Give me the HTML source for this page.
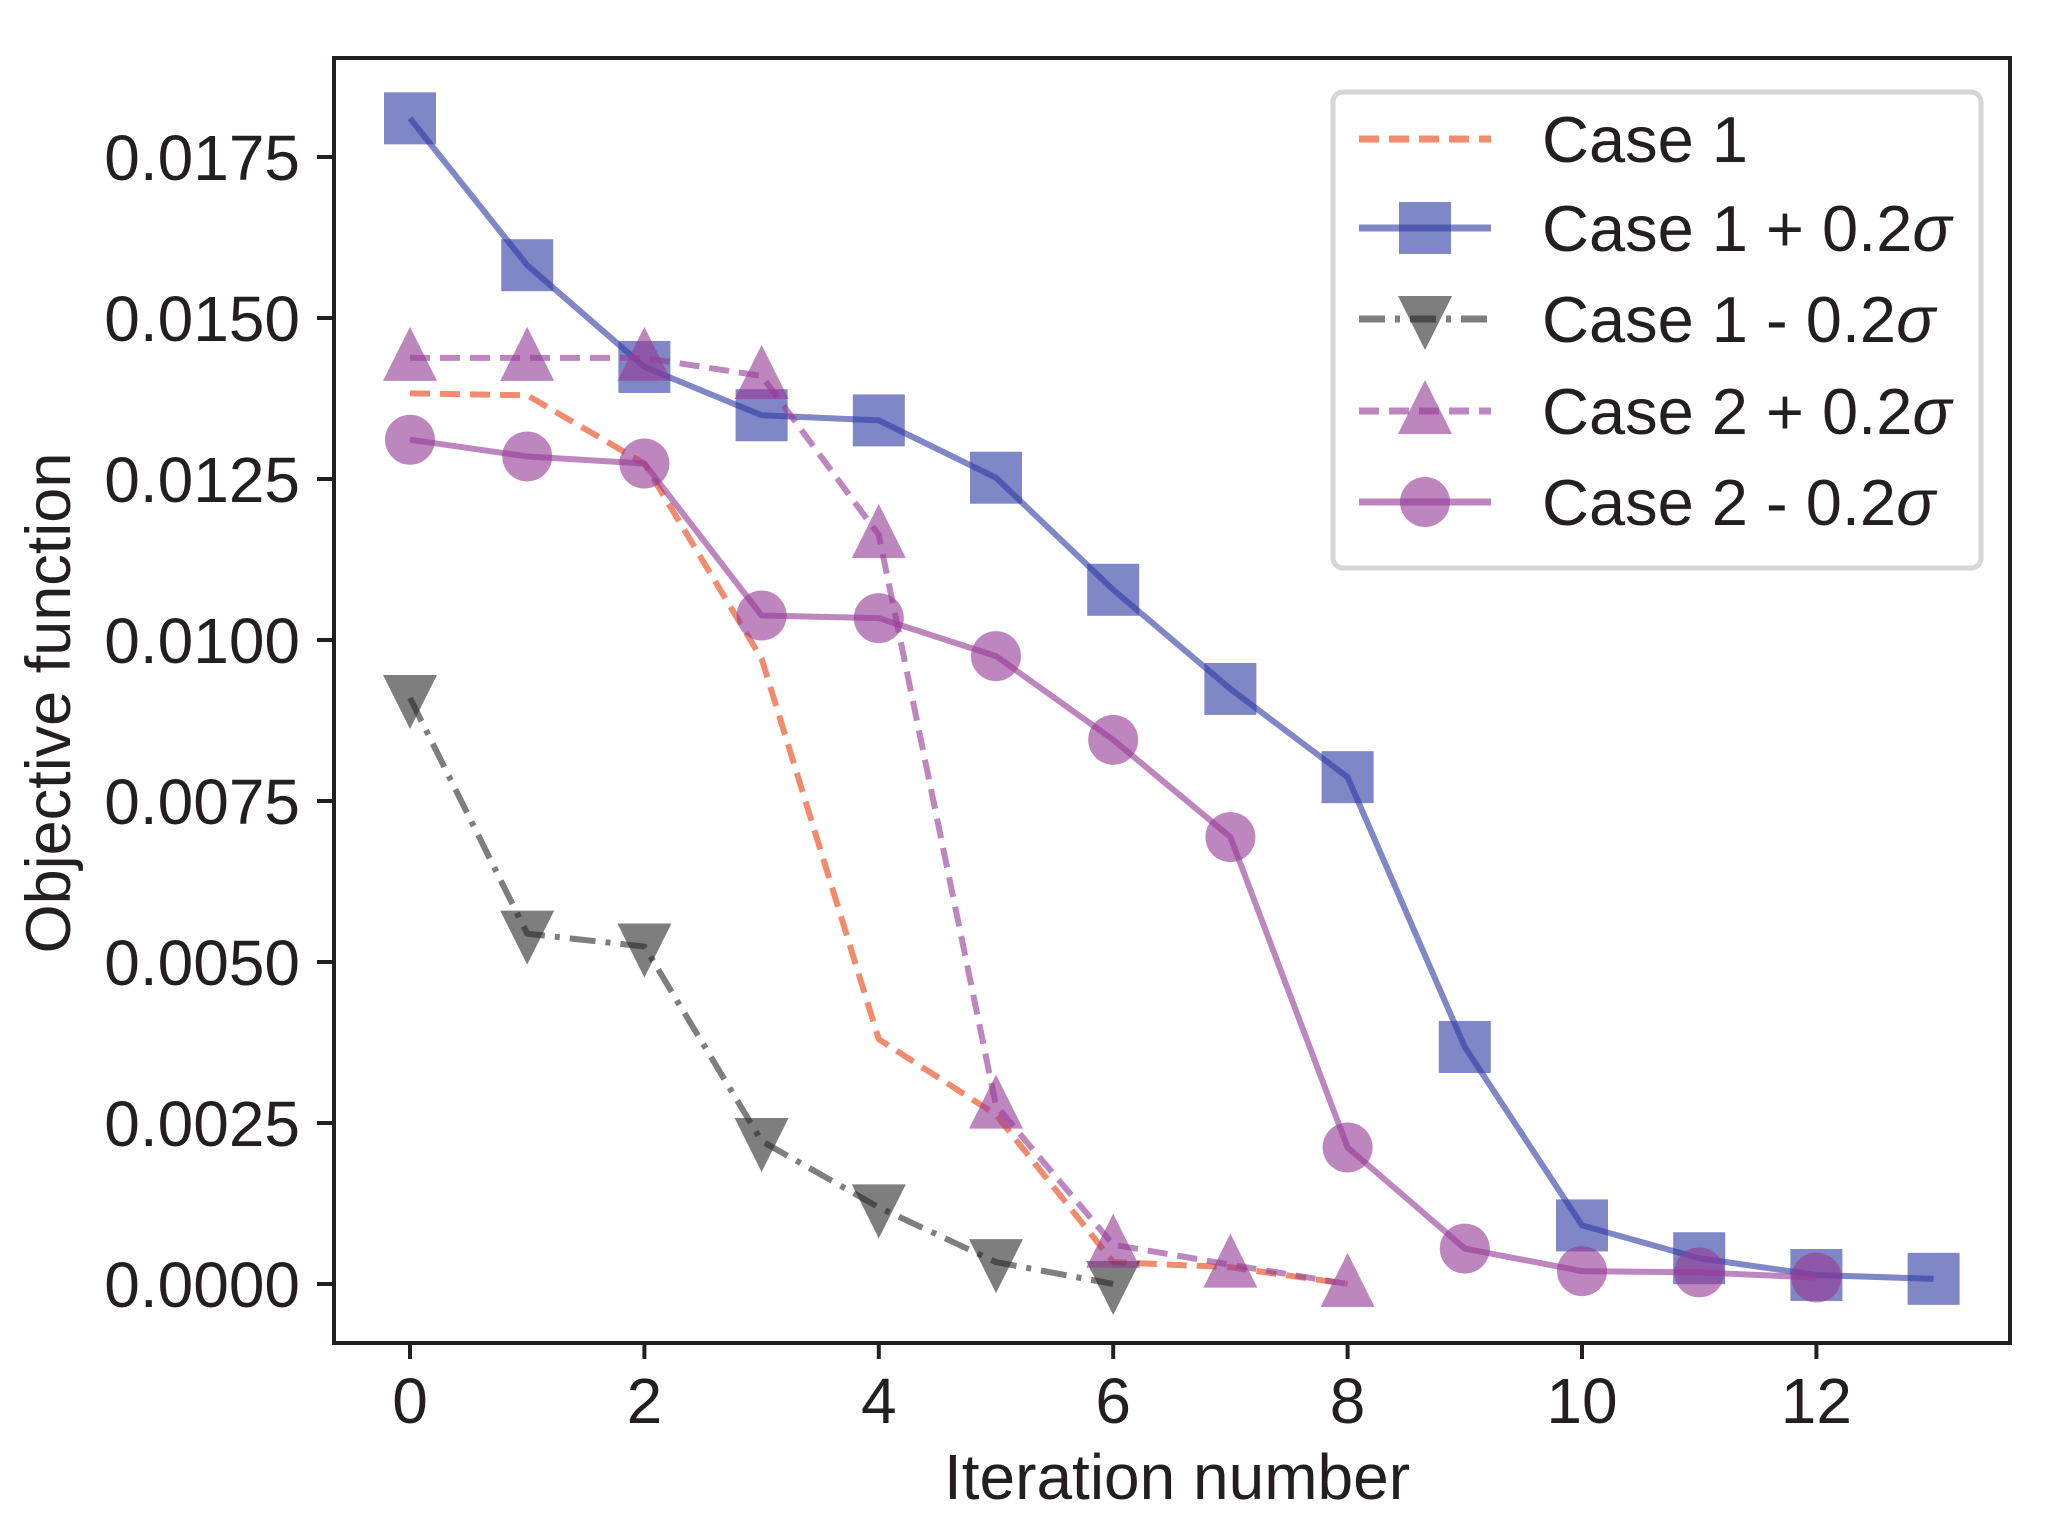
<!DOCTYPE html>
<html><head><meta charset="utf-8"><style>
html,body{margin:0;padding:0;background:#fff;}
svg{display:block;font-family:"Liberation Sans",Arial,sans-serif;}
</style></head><body>
<svg id="chart" width="2046" height="1525" viewBox="0 0 2046 1525" xmlns="http://www.w3.org/2000/svg">
<rect width="2046" height="1525" fill="#fff"/>
<g id="marks"></g>
<g id="axes"></g>
<g id="legend"></g>
</svg>
<script>
const iterations = [0,1,2,3,4,5,6,7,8,9,10,11,12,13];
const case1 = [0.01383,0.0138,0.01274,0.00971,0.0038,0.00263,0.00034,0.00026,0.0];
const case1Plus = [0.0181,0.01582,0.01424,0.01349,0.01341,0.01252,0.01078,0.00924,0.00787,0.00368,0.00091,0.0004,0.00014,0.00008];
const case1Minus = [0.0091,0.00544,0.00524,0.00222,0.00119,0.00034,0.0];
const case2Plus = [0.01438,0.01438,0.01438,0.0141,0.01163,0.00277,0.00061,0.0003,0.0];
const case2Minus = [0.01311,0.01285,0.01274,0.01038,0.01034,0.00975,0.00845,0.00694,0.00212,0.00055,0.0002,0.00018,0.0001];
const xTicks = [0,2,4,6,8,10,12];
const yTicks = [0,0.0025,0.005,0.0075,0.01,0.0125,0.015,0.0175];
const yTickLabels = ["0.0000","0.0025","0.0050","0.0075","0.0100","0.0125","0.0150","0.0175"];
const seriesBase = ["Case 1","Case 1 + 0.2","Case 1 - 0.2","Case 2 + 0.2","Case 2 - 0.2"];
const seriesSigma = [false,true,true,true,true];

const L=334,R=2010,T=58,B=1343;
const x0px=410, xUnit=117.2, y0px=1284, yPer=161/0.0025;
function X(v){return x0px+v*xUnit;}
function Y(v){return y0px-v*yPer;}
const NS="http://www.w3.org/2000/svg";
function mk(tag,attrs,parent){const e=document.createElementNS(NS,tag);for(const k in attrs)e.setAttribute(k,attrs[k]);parent.appendChild(e);return e;}
const marks=document.getElementById('marks'),axes=document.getElementById('axes'),legend=document.getElementById('legend');

const styles=[
 {data:case1,color:'rgba(238,100,60,0.75)',dash:'20,10',marker:null,name:'case-1'},
 {data:case1Plus,color:'rgba(50,62,165,0.62)',dash:null,marker:'square',name:'case-1-plus'},
 {data:case1Minus,color:'rgba(40,40,40,0.6)',dash:'26,10,5,10',marker:'tridown',name:'case-1-minus'},
 {data:case2Plus,color:'rgba(150,60,150,0.62)',dash:'20,10',marker:'triup',name:'case-2-plus'},
 {data:case2Minus,color:'rgba(150,60,150,0.62)',dash:null,marker:'circle',name:'case-2-minus'}
];
function marker(type,cx,cy,color,parent){
 let e;
 if(type==='square'){e=mk('rect',{x:cx-26,y:cy-26,width:52,height:52,fill:color},parent);}
 else if(type==='circle'){e=mk('ellipse',{cx:cx,cy:cy,rx:25,ry:25,fill:color},parent);}
 else if(type==='triup'){e=mk('polygon',{points:`${cx},${cy-31} ${cx-27},${cy+23} ${cx+27},${cy+23}`,fill:color},parent);}
 else if(type==='tridown'){e=mk('polygon',{points:`${cx},${cy+31} ${cx-27},${cy-23} ${cx+27},${cy-23}`,fill:color},parent);}
 return e;
}
styles.forEach((s,si)=>{
 const g=mk('g',{},marks);
 
 
 const pts=s.data.map((v,i)=>X(iterations[i])+','+Y(v)).join(' ');
 const pl=mk('polyline',{points:pts,fill:'none',stroke:s.color,'stroke-width':6,'stroke-linejoin':'round'},g);
 if(s.dash)pl.setAttribute('stroke-dasharray',s.dash);
 
 
 if(s.marker){s.data.forEach((v,i)=>{
   const m=marker(s.marker,X(iterations[i]),Y(v),s.color,g);
   
   
 });}
});

const frame=mk('rect',{x:L,y:T,width:R-L,height:B-T,fill:'none',stroke:'#231f20','stroke-width':4},axes);


xTicks.forEach(t=>{
 const tk=mk('line',{x1:X(t),x2:X(t),y1:B,y2:B+16,stroke:'#231f20','stroke-width':4},axes);
 
 
 const tx=mk('text',{x:X(t),y:1423,'font-size':64,'text-anchor':'middle',fill:'#231f20'},axes);
 tx.textContent=String(t);
 
 
});
yTicks.forEach((t,i)=>{
 const tk=mk('line',{x1:L-17,x2:L,y1:Y(t),y2:Y(t),stroke:'#231f20','stroke-width':4},axes);
 
 
 const tx=mk('text',{x:300,y:Y(t)+23,'font-size':64,'text-anchor':'end',fill:'#231f20'},axes);
 tx.textContent=yTickLabels[i];
 
 
});
const xl=mk('text',{x:1177,y:1499,'font-size':64,'text-anchor':'middle',fill:'#231f20'},axes);
xl.textContent='Iteration number';


const yl=mk('text',{x:0,y:0,'font-size':63,'text-anchor':'middle',fill:'#231f20',transform:'translate(70,703) rotate(-90)'},axes);
yl.textContent='Objective function';



const lb=mk('rect',{x:1333,y:92,width:648,height:476,rx:10,fill:'#fff','fill-opacity':0.85,stroke:'#d6d6d6','stroke-width':5},legend);


const rowsY=[139,228,319,411,502];
styles.forEach((s,i)=>{
 const g=mk('g',{},legend);
 
 
 const ln=mk('line',{x1:1359,x2:1491,y1:rowsY[i],y2:rowsY[i],stroke:s.color,'stroke-width':7},g);
 if(s.dash)ln.setAttribute('stroke-dasharray',s.dash);
 if(s.marker)marker(s.marker,1425,rowsY[i],s.color,g);
 const tx=mk('text',{x:1542,y:rowsY[i]+23,'font-size':65,fill:'#231f20'},g);
 tx.textContent=seriesBase[i];
 if(seriesSigma[i]){
   const ts=mk('tspan',{'font-style':'italic'},tx);
   ts.textContent='σ';
 }
});
</script>
</body></html>
